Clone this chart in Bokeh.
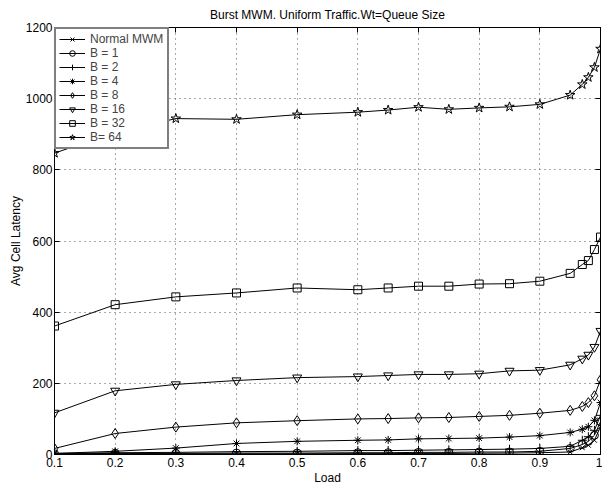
from bokeh.plotting import figure
from bokeh.models import FixedTicker, LinearAxis, Range1d, Legend, LegendItem, Title, CustomJSTickFormatter
from bokeh.embed import file_html
from bokeh.resources import INLINE

load = [0.1, 0.2, 0.3, 0.4, 0.5, 0.6, 0.65, 0.7, 0.75, 0.8, 0.85, 0.9, 0.95, 0.97, 0.98, 0.99, 1.0]

normal_mwm = [1, 1, 1.5, 2, 2, 2.5, 2.5, 3, 3, 3.5, 4, 5, 7, 19, 26, 40, 78]
b1 = [2, 3, 3, 4, 4, 5, 5, 6, 6, 7, 7, 9, 17, 28, 37, 54, 92]
b2 = [3, 5, 6, 8, 9, 11, 11, 12, 13, 14, 15, 17, 23, 40, 50, 68, 110]
b4 = [3, 9, 18, 31, 37, 40, 41, 44, 45, 46, 49, 53, 62, 71, 78, 96, 146]
b8 = [17, 59, 77, 89, 95, 100, 101, 103, 104, 107, 110, 116, 124, 135, 146, 165, 210]
b16 = [117, 179, 197, 208, 216, 219, 222, 225, 225, 227, 235, 237, 252, 269, 280, 302, 347]
b32 = [361, 421, 443, 454, 468, 463, 468, 473, 473, 479, 480, 487, 509, 534, 545, 576, 611]
b64 = [847, 905, 944, 942, 955, 962, 968, 976, 970, 974, 977, 984, 1010, 1040, 1060, 1088, 1140]

series_labels = ["Normal MWM", "B = 1", "B = 2", "B = 4", "B = 8", "B = 16", "B = 32", "B= 64"]
series_values = [normal_mwm, b1, b2, b4, b8, b16, b32, b64]
markers = ["x", "circle", "cross", "asterisk", "diamond", "inverted_triangle", "square", "star"]
marker_sizes = [7, 8, 9, 8, 10, 9, 8, 10]

x_ticks = [0.1, 0.2, 0.3, 0.4, 0.5, 0.6, 0.7, 0.8, 0.9, 1.0]
x_tick_labels = ["0.1", "0.2", "0.3", "0.4", "0.5", "0.6", "0.7", "0.8", "0.9", "1"]
y_ticks = [0, 200, 400, 600, 800, 1000, 1200]

FONT = "Liberation Sans"

p = figure(width=602, height=487, output_backend="svg", toolbar_location=None,
           x_range=Range1d(0.1, 1.0), y_range=Range1d(0, 1200),
           min_border_left=54, min_border_right=2, min_border_top=27, min_border_bottom=31)

p.title = Title(text="Burst MWM. Uniform Traffic.Wt=Queue Size", align="center",
                text_font=FONT, text_font_size="12px", text_font_style="normal",
                text_color="#000000", offset=0, standoff=11)

p.outline_line_color = "black"
p.outline_line_width = 1
p.background_fill_color = "white"
p.border_fill_color = "white"

for ax in (p.xaxis[0], p.yaxis[0]):
    ax.major_tick_in = 5
    ax.major_tick_out = 0
    ax.minor_tick_in = 0
    ax.minor_tick_out = 0
    ax.axis_line_color = "black"
    ax.major_tick_line_color = "black"
    ax.major_label_text_font = FONT
    ax.major_label_text_font_size = "12px"
    ax.major_label_text_color = "black"
    ax.axis_label_text_font = FONT
    ax.axis_label_text_font_size = "12px"
    ax.axis_label_text_font_style = "normal"
    ax.axis_label_text_color = "black"

p.xaxis[0].ticker = FixedTicker(ticks=x_ticks)
p.xaxis[0].major_label_overrides = {t: l for t, l in zip(x_ticks, x_tick_labels)}
p.xaxis[0].axis_label = "Load"
p.xaxis[0].major_label_standoff = 3
p.xaxis[0].axis_label_standoff = 1
p.yaxis[0].ticker = FixedTicker(ticks=y_ticks)
p.yaxis[0].axis_label = "Avg Cell Latency"
p.yaxis[0].major_label_standoff = 2
p.yaxis[0].axis_label_standoff = 0

# mirrored ticks on top and right (no labels)
for loc in ("above", "right"):
    ax = LinearAxis(ticker=FixedTicker(ticks=x_ticks if loc == "above" else y_ticks),
                    formatter=CustomJSTickFormatter(code="return ''"))
    ax.major_tick_in = 5
    ax.major_tick_out = 0
    ax.minor_tick_in = 0
    ax.minor_tick_out = 0
    ax.major_label_standoff = 0
    ax.axis_line_color = "black"
    ax.major_tick_line_color = "black"
    p.add_layout(ax, loc)

p.xgrid.ticker = FixedTicker(ticks=x_ticks)
p.ygrid.ticker = FixedTicker(ticks=y_ticks)
for g in (p.xgrid[0], p.ygrid[0]):
    g.grid_line_color = "#555555"
    g.grid_line_dash = "1 4"
    g.grid_line_width = 1

items = []
for lab, vals, mk, ms in zip(series_labels, series_values, markers, marker_sizes):
    r1 = p.line(load, vals, line_color="black", line_width=1)
    r2 = p.scatter(load, vals, marker=mk, size=ms, line_color="black",
                   fill_color=None, line_width=1)
    items.append(LegendItem(label=lab, renderers=[r1, r2]))

legend = Legend(items=items, location="top_left", margin=0, padding=3, spacing=0,
                label_text_font=FONT, label_text_font_size="12px", label_height=14,
                label_width=74, glyph_height=14, glyph_width=26, label_standoff=5,
                border_line_color="black", border_line_width=2,
                background_fill_color="white", background_fill_alpha=1)
p.add_layout(legend, "center")

open("out.html", "w").write(file_html(p, INLINE))
